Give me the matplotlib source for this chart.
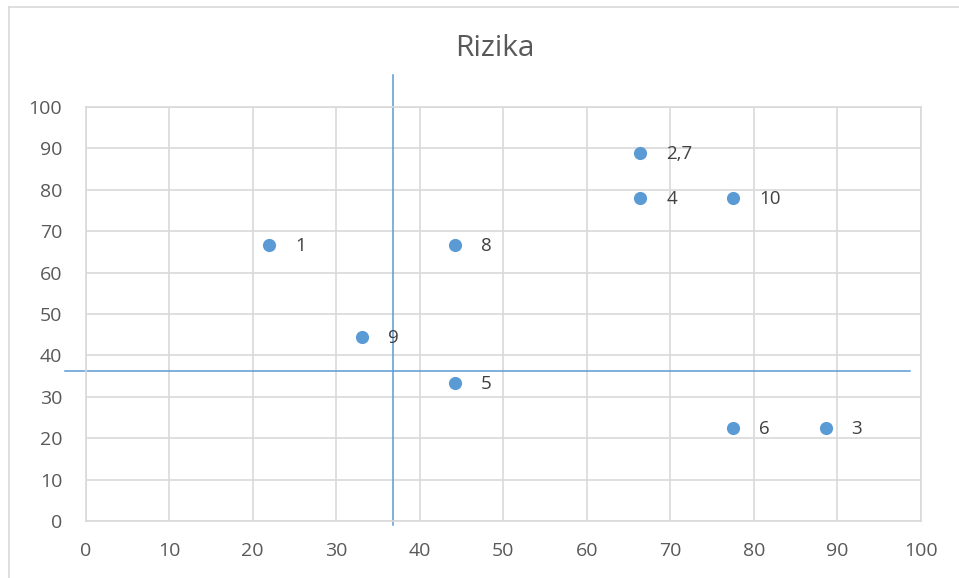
import matplotlib.pyplot as plt
from matplotlib.lines import Line2D

# =========================
# DATA
# =========================
x_vals = [22.0, 66.4, 88.6, 66.4, 44.2, 77.5, 44.2, 33.1, 77.5]
y_vals = [66.7, 88.8, 22.4, 77.9, 33.3, 22.4, 66.7, 44.4, 77.9]
labels = ["1", "2,7", "3", "4", "5", "6", "8", "9", "10"]

# divider lines (drawn by hand in the original)
v_line_x = 36.8
v_line_y = [-0.9, 107.7]
h_line_y = 36.2
h_line_x = [-2.5, 98.7]

x_ticks = list(range(0, 101, 10))
y_ticks = list(range(0, 101, 10))

TEXT = "#595959"
LABEL = "#404040"
GRID = "#d9d9d9"
BLUE = "#5b9bd5"

plt.rcParams['font.family'] = ['Open Sans', 'DejaVu Sans']

fig = plt.figure(figsize=(9.59, 5.78), dpi=100)
ax = fig.add_axes([0.0894, 0.0981, 0.8707, 0.7173])

ax.scatter(x_vals, y_vals, s=90, color=BLUE, zorder=3, linewidths=0)
for x, y, lab in zip(x_vals, y_vals, labels):
    ax.annotate(lab, (x, y), xytext=(26, -1), textcoords="offset pixels",
                ha="left", va="center", fontsize=13.5, color=LABEL)

ax.plot([v_line_x, v_line_x], v_line_y, color="#5b9bd5", lw=1.1, clip_on=False, zorder=2)
ax.plot(h_line_x, [h_line_y, h_line_y], color="#5b9bd5", lw=1.1, clip_on=False, zorder=2)

ax.set_xlim(0, 100)
ax.set_ylim(0, 100)
ax.set_xticks(x_ticks)
ax.set_yticks(y_ticks)
ax.grid(True, color=GRID, lw=1.2)
ax.set_axisbelow(True)
ax.tick_params(length=0, labelsize=14, labelcolor=TEXT)
ax.tick_params(axis="y", pad=17)
ax.tick_params(axis="x", pad=15)
for s in ax.spines.values():
    s.set_color(GRID)
    s.set_linewidth(1.2)

fig.text(495 / 959, 1 - 49 / 578, "Rizika", ha="center", va="center",
         fontsize=21.5, color=TEXT)

# chart area border (left and top edges visible)
fig.add_artist(Line2D([9 / 959, 9 / 959], [0, 1 - 7 / 578], color=GRID, lw=1.2))
fig.add_artist(Line2D([9 / 959, 1], [1 - 7 / 578, 1 - 7 / 578], color=GRID, lw=1.2))

fig.savefig("out.png", dpi=100)
